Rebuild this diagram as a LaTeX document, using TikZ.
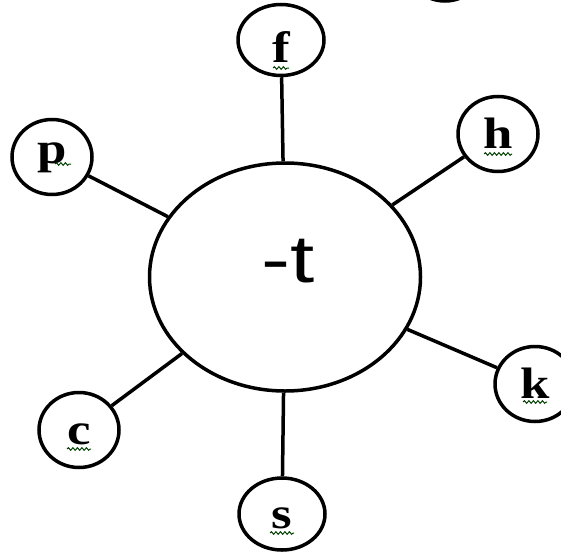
\documentclass[tikz,border=0pt]{standalone}
\usepackage{fontspec}
\setmainfont{Liberation Serif}
\newfontfamily\arialfont{Liberation Sans}
\usetikzlibrary{shapes.geometric, positioning}
\usetikzlibrary{decorations.pathmorphing}
\tikzset{
    phon/.style={
        ellipse,
        draw=black,
        line width=3.5pt,
        minimum width=80pt,
        minimum height=75pt,
        inner sep=0pt,
        font=\fontsize{44}{44}\selectfont\bfseries,
        text height=28pt,
        text depth=0pt
    },
    core/.style={
        ellipse,
        draw=black,
        line width=3.5pt,
        minimum width=271pt,
        minimum height=228pt
    },
    link/.style={
        line width=3.5pt,
        draw=black
    },
    squiggle/.style={
        decorate,
        decoration={snake, amplitude=1.3pt, segment length=4.5pt},
        line width=1pt,
        draw=green!25!black
    }
}
\newcommand{\wide}[1]{\scalebox{1.2}[1]{#1}}

\begin{document}
\begin{tikzpicture}[x=1pt, y=-1pt]
\clip (0,0) rectangle (561,551);
\fill[white] (0,0) rectangle (561,551);

% 1. Centre
\node[core, label={[font=\fontsize{67}{67}\selectfont\arialfont, xshift=3pt, yshift=16pt]center:\scalebox{1.3}[1]{-t}}] (t) at (285,277) {};

% 2. Surrounding sounds
\node[phon, minimum width=86pt, minimum height=71pt, text height=44pt] (f) at (281,40) {\wide{f}};
\node[phon] (h) at (498,134) {\wide{h}};
\node[phon] (k) at (535,384) {\wide{k}};
\node[phon, minimum width=86pt, minimum height=72pt] (s) at (282,514) {\wide{s}};
\node[phon] (c) at (79,430) {\wide{c}};
\node[phon, text height=12pt] (p) at (52,157) {\wide{p}};

% 3. Connections
\draw[link] (f) -- (t);
\draw[link] (h) -- (t);
\draw[link] (k) -- (t);
\draw[link] (s) -- (t);
\draw[link] (c) -- (t);
\draw[link] (p) -- (t);

% 4. Spelling marks
\draw[squiggle] ([xshift=-8pt, yshift=-6pt]f.base) -- ++(16pt,0);
\draw[squiggle] ([xshift=-14pt, yshift=-6pt]h.base) -- ++(28pt,0);
\draw[squiggle] ([xshift=-12pt, yshift=-4pt]k.base) -- ++(24pt,0);
\draw[squiggle] ([xshift=-12pt, yshift=-5pt]s.base) -- ++(24pt,0);
\draw[squiggle] ([xshift=-12pt, yshift=-5pt]c.base) -- ++(24pt,0);
\draw[squiggle] ([xshift=3pt, yshift=-1pt]p.base) -- ++(16pt,0);

% 5. Cut-off shape at the top
\draw[line width=3.5pt] (445,-40) circle[radius=41pt];

\end{tikzpicture}
\end{document}
